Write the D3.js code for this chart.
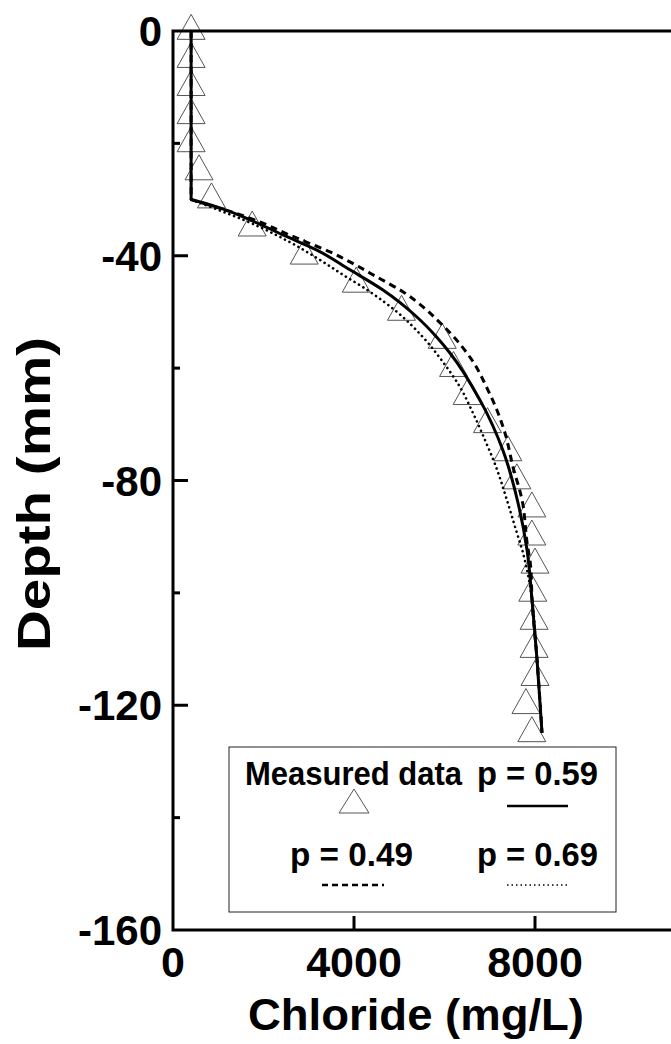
<!DOCTYPE html>
<html lang="en">
<head>
<meta charset="utf-8">
<title>Chloride profile</title>
<script src="https://d3js.org/d3.v7.min.js"></script>
<style>
  body { margin: 0; background: #fff; }
  text { font-family: "Liberation Sans", Arial, Helvetica, sans-serif; font-weight: bold; fill: #000; }
</style>
</head>
<body>
<div id="chart"></div>
<script>
// measured data (depth in mm, chloride in mg/L)
var measDepth = [0, -5, -10, -15, -20, -25, -30, -35, -40, -45, -50, -55, -60, -65,
                 -70, -75, -80, -85, -90, -95, -100, -105, -110, -115, -120, -125];
var measCl = [400, 400, 400, 400, 400, 575, 850, 1750, 2900, 4050, 5050, 5950, 6200, 6500,
              6950, 7400, 7600, 7930, 7930, 8000, 7950, 7980, 7980, 8000, 7800, 7930];

// model curves (first two points = initial step, then the diffusion profile)
var p59Depth = [0, -30, -31.3, -33.6, -36.3, -39.0, -42.5, -46.1, -50.9, -54.5, -57.3, -65.7, -74.6, -84.0, -92.4, -101.3, -111.9, -124.9];
var p59Cl    = [400, 400, 970, 1700, 2430, 3180, 3910, 4640, 5390, 5830, 6120, 6785, 7290, 7625, 7825, 7935, 8045, 8155];

var p49Depth = [0, -30, -34.2, -35.8, -37.6, -39.3, -41.1, -43.8, -46.4, -49.1, -51.4, -53.7, -58.6, -63.9, -67.5, -71.5, -77.6, -83.5, -91.1, -95.4, -101.3, -111.9, -124.9];
var p49Cl    = [400, 400, 1990, 2430, 2960, 3470, 3910, 4510, 5080, 5525, 5835, 6120, 6610, 6960, 7160, 7335, 7515, 7715, 7825, 7905, 7935, 8045, 8155];

var p69Depth = [0, -30, -34.9, -37.4, -40.4, -43.4, -46.4, -50.0, -54.5, -58.9, -63.4, -68.0, -72.8, -77.6, -83.5, -88.8, -92.9, -96.8, -101.3, -111.9, -124.9];
var p69Cl    = [400, 400, 1920, 2540, 3180, 3760, 4350, 4950, 5525, 5965, 6345, 6630, 6895, 7140, 7380, 7580, 7735, 7845, 7935, 8045, 8155];

var xTicks = [0, 4000, 8000];
var yTicks = [0, -40, -80, -120, -160];
var yMinor = [-20, -60, -100, -140];

var W = 671, H = 1044;
var svg = d3.select("#chart").append("svg")
  .attr("width", W).attr("height", H);

var x = d3.scaleLinear().domain([0, 12000]).range([173, 716]);
var y = d3.scaleLinear().domain([0, -160]).range([31, 930]);

// triangle centred on its centroid
function tri(w, h) {
  return "M0," + (-2 * h / 3) + "L" + (w / 2) + "," + (h / 3) + "L" + (-w / 2) + "," + (h / 3) + "Z";
}

// measured triangles
var meas = measDepth.map(function(d, i) { return {d: d, c: measCl[i]}; });
svg.append("g").selectAll("path")
  .data(meas).enter().append("path")
  .attr("d", tri(28, 25))
  .attr("transform", function(d) { return "translate(" + x(d.c) + "," + y(d.d) + ")"; })
  .attr("fill", "none")
  .attr("stroke", "#555")
  .attr("stroke-width", 1);

// model lines
var stepLine = d3.line()
  .x(function(d) { return x(d.c); })
  .y(function(d) { return y(d.d); });
var curveLine = d3.line()
  .x(function(d) { return x(d.c); })
  .y(function(d) { return y(d.d); })
  .curve(d3.curveMonotoneY);

function pts(dep, cl) { return dep.map(function(d, i) { return {d: d, c: cl[i]}; }); }

function model(dep, cl, width, dash, cap) {
  var p = pts(dep, cl);
  var g = svg.append("g").attr("fill", "none").attr("stroke", "#000")
    .attr("stroke-width", width);
  if (dash) g.attr("stroke-dasharray", dash);
  if (cap) g.attr("stroke-linecap", cap);
  g.append("path").datum(p.slice(0, 2)).attr("d", stepLine);
  g.append("path").datum(p.slice(1)).attr("d", curveLine);
}

model(p49Depth, p49Cl, 3, "7,5");
model(p69Depth, p69Cl, 2.6, "0.1,5", "round");
model(p59Depth, p59Cl, 3);

// frame
svg.append("rect")
  .attr("x", x(0)).attr("y", y(0))
  .attr("width", x(12000) - x(0)).attr("height", y(-160) - y(0))
  .attr("fill", "none").attr("stroke", "#000").attr("stroke-width", 3);

// y ticks
svg.append("g").selectAll("line.maj")
  .data(yTicks.slice(1, 4)).enter().append("line")
  .attr("x1", x(0)).attr("x2", x(0) + 15)
  .attr("y1", function(d) { return y(d); }).attr("y2", function(d) { return y(d); })
  .attr("stroke", "#000").attr("stroke-width", 3);
svg.append("g").selectAll("line.min")
  .data(yMinor).enter().append("line")
  .attr("x1", x(0)).attr("x2", x(0) + 7)
  .attr("y1", function(d) { return y(d); }).attr("y2", function(d) { return y(d); })
  .attr("stroke", "#000").attr("stroke-width", 3);
svg.append("g").selectAll("text")
  .data(yTicks).enter().append("text")
  .attr("x", 162).attr("y", function(d) { return y(d); })
  .attr("dy", "0.36em")
  .attr("text-anchor", "end")
  .style("font-size", "42px")
  .text(function(d) { return d; });

// x ticks
svg.append("g").selectAll("line")
  .data(xTicks.slice(1)).enter().append("line")
  .attr("x1", function(d) { return x(d); }).attr("x2", function(d) { return x(d); })
  .attr("y1", y(-160)).attr("y2", y(-160) - 14)
  .attr("stroke", "#000").attr("stroke-width", 3);
svg.append("g").selectAll("text")
  .data(xTicks).enter().append("text")
  .attr("x", function(d) { return x(d); }).attr("y", 977)
  .attr("text-anchor", "middle")
  .style("font-size", "43px")
  .text(function(d) { return d; });

// axis titles
svg.append("text")
  .attr("x", 416).attr("y", 1030)
  .attr("text-anchor", "middle")
  .attr("textLength", 336).attr("lengthAdjust", "spacingAndGlyphs")
  .style("font-size", "45px")
  .text("Chloride (mg/L)");
svg.append("text")
  .attr("transform", "translate(50,494) rotate(-90)")
  .attr("text-anchor", "middle")
  .attr("textLength", 314).attr("lengthAdjust", "spacingAndGlyphs")
  .style("font-size", "47px")
  .text("Depth (mm)");

// legend
var lg = svg.append("g");
lg.append("rect")
  .attr("x", 229).attr("y", 747).attr("width", 387).attr("height", 165)
  .attr("fill", "#fff").attr("stroke", "#222").attr("stroke-width", 1);
lg.append("text").attr("x", 245).attr("y", 785)
  .attr("textLength", 217).attr("lengthAdjust", "spacingAndGlyphs")
  .style("font-size", "33px").text("Measured data");
lg.append("text").attr("x", 477).attr("y", 785)
  .attr("textLength", 121).attr("lengthAdjust", "spacingAndGlyphs")
  .style("font-size", "33px").text("p = 0.59");
lg.append("text").attr("x", 290).attr("y", 866)
  .attr("textLength", 123).attr("lengthAdjust", "spacingAndGlyphs")
  .style("font-size", "33px").text("p = 0.49");
lg.append("text").attr("x", 477).attr("y", 866)
  .attr("textLength", 121).attr("lengthAdjust", "spacingAndGlyphs")
  .style("font-size", "33px").text("p = 0.69");
lg.append("path").attr("d", tri(30, 24))
  .attr("transform", "translate(354,805)")
  .attr("fill", "none").attr("stroke", "#555").attr("stroke-width", 1);
lg.append("line").attr("x1", 507).attr("x2", 568).attr("y1", 806).attr("y2", 806)
  .attr("stroke", "#000").attr("stroke-width", 2.5);
lg.append("line").attr("x1", 322).attr("x2", 384).attr("y1", 885).attr("y2", 885)
  .attr("stroke", "#000").attr("stroke-width", 2.5).attr("stroke-dasharray", "6,4");
lg.append("line").attr("x1", 507).attr("x2", 568).attr("y1", 885).attr("y2", 885)
  .attr("stroke", "#000").attr("stroke-width", 1.5).attr("stroke-dasharray", "1.5,3");
</script>
</body>
</html>
